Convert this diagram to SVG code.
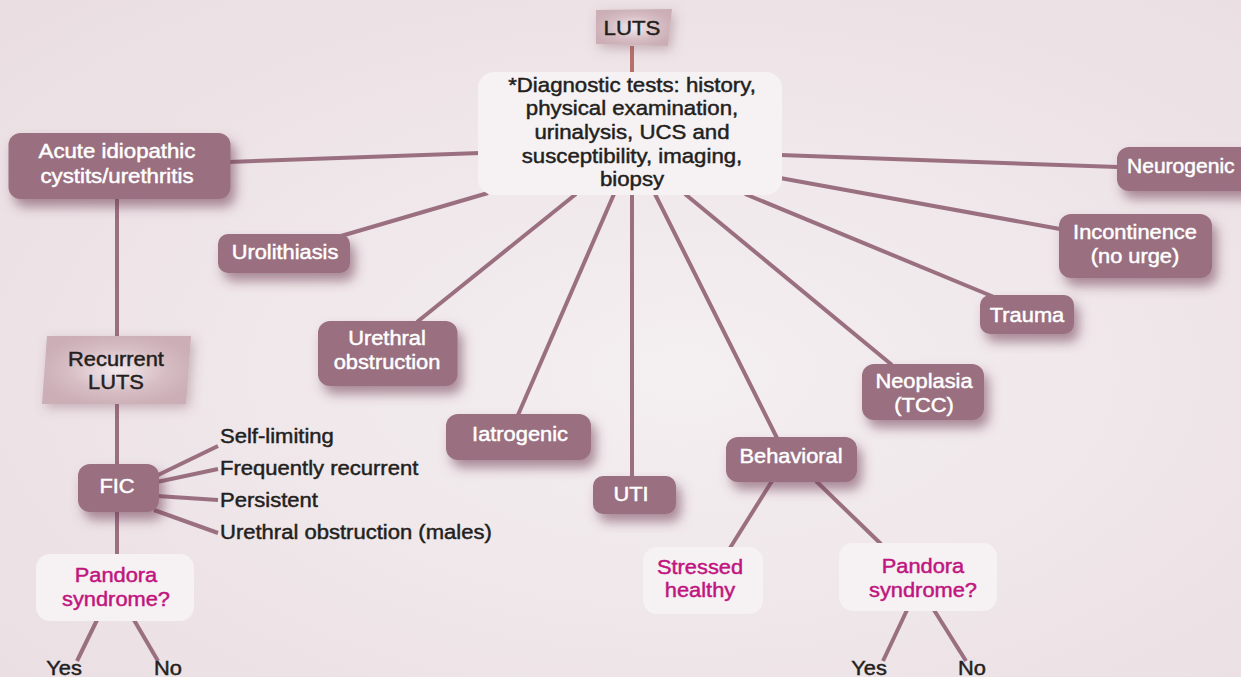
<svg xmlns="http://www.w3.org/2000/svg" width="1241" height="677" viewBox="0 0 1241 677">
<defs>
<radialGradient id="bg" cx="55%" cy="55%" r="75%">
<stop offset="0" stop-color="#f4eff1"/>
<stop offset="1" stop-color="#eadee2"/>
</radialGradient>
<radialGradient id="glow" cx="50%" cy="50%" r="55%">
<stop offset="0" stop-color="#f3eaed"/>
<stop offset="0.6" stop-color="#d6bcc3"/>
<stop offset="1" stop-color="#cbaeb6"/>
</radialGradient>
<filter id="sh" x="-20%" y="-30%" width="150%" height="180%">
<feGaussianBlur in="SourceAlpha" stdDeviation="6"/>
<feOffset dx="5" dy="8" result="b"/>
<feFlood flood-color="#6e3a50" flood-opacity="0.55"/>
<feComposite in2="b" operator="in"/>
<feMerge><feMergeNode/><feMergeNode in="SourceGraphic"/></feMerge>
</filter>
<filter id="sh2" x="-20%" y="-30%" width="150%" height="180%">
<feGaussianBlur in="SourceAlpha" stdDeviation="6"/>
<feOffset dx="3" dy="4" result="b"/>
<feFlood flood-color="#7a4a5c" flood-opacity="0.35"/>
<feComposite in2="b" operator="in"/>
<feMerge><feMergeNode/><feMergeNode in="SourceGraphic"/></feMerge>
</filter>
</defs>
<style>
text{font-family:"Liberation Sans",Arial,Helvetica,sans-serif;font-size:19.5px;stroke-width:0.45px}
.m{fill:#9a6f80}
.w{fill:#f6f1f3}
.tw{fill:#ffffff;stroke:#ffffff;text-anchor:middle}
.td{fill:#231f20;stroke:#231f20;text-anchor:middle}
.tl{fill:#231f20;stroke:#231f20;text-anchor:start}
.tp{fill:#c0157e;stroke:#c0157e;text-anchor:middle}
.c{stroke:#9a7080;stroke-width:4;fill:none}
.lb{fill:url(#glow)}
</style>
<rect x="0" y="0" width="1241" height="677" fill="url(#bg)"/>

<g id="connectors">
<line class="c" x1="632" y1="46" x2="632" y2="74" style="stroke:#b8716a"/>
<line class="c" x1="480" y1="153" x2="228" y2="162"/>
<line class="c" x1="488" y1="193" x2="341" y2="236"/>
<line class="c" x1="576" y1="194" x2="417" y2="322"/>
<line class="c" x1="614" y1="194" x2="518" y2="415"/>
<line class="c" x1="632" y1="194" x2="632" y2="477"/>
<line class="c" x1="655" y1="194" x2="777" y2="438"/>
<line class="c" x1="685" y1="194" x2="892" y2="365"/>
<line class="c" x1="745" y1="194" x2="994" y2="297"/>
<line class="c" x1="780" y1="178" x2="1060" y2="229"/>
<line class="c" x1="780" y1="155" x2="1118" y2="167"/>
<line class="c" x1="117" y1="198" x2="117" y2="337"/>
<line class="c" x1="117" y1="403" x2="117" y2="465"/>
<line class="c" x1="117" y1="511" x2="117" y2="555"/>
<line class="c" x1="156" y1="476" x2="218" y2="446"/>
<line class="c" x1="157" y1="482" x2="218" y2="469"/>
<line class="c" x1="157" y1="496" x2="218" y2="500"/>
<line class="c" x1="154" y1="510" x2="218" y2="533"/>
<line class="c" x1="97" y1="620" x2="77" y2="661"/>
<line class="c" x1="134" y1="620" x2="158" y2="661"/>
<line class="c" x1="772" y1="481" x2="730" y2="548"/>
<line class="c" x1="816" y1="481" x2="881" y2="544"/>
<line class="c" x1="907" y1="610" x2="883" y2="661"/>
<line class="c" x1="934" y1="610" x2="966" y2="661"/>
</g>

<g id="luts">
<polygon class="lb" points="596,10 672,9 668,46 596,44" filter="url(#sh2)"/>
<text class="td" transform="translate(632,35) scale(1.14,1)">LUTS</text>
</g>

<g id="diagnostic">
<rect class="w" x="478" y="72" width="304" height="123" rx="16"/>
<text class="td" transform="translate(632,92) scale(1.14,1)"><tspan x="0" y="0">*Diagnostic tests: history,</tspan><tspan x="0" y="23.5">physical examination,</tspan><tspan x="0" y="47">urinalysis, UCS and</tspan><tspan x="0" y="71">susceptibility, imaging,</tspan><tspan x="0" y="94.5">biopsy</tspan></text>
</g>

<g id="acute">
<rect class="m" x="8.5" y="133" width="222" height="66" rx="12" filter="url(#sh)"/>
<text class="tw" transform="translate(117,158) scale(1.14,1)"><tspan x="0" y="0">Acute idiopathic</tspan><tspan x="0" y="25">cystits/urethritis</tspan></text>
</g>

<g id="urolithiasis">
<rect class="m" x="218" y="234" width="132" height="39" rx="10" filter="url(#sh)"/>
<text class="tw" transform="translate(285,259) scale(1.12,1)">Urolithiasis</text>
</g>

<g id="urethral">
<rect class="m" x="318" y="321" width="139.5" height="65" rx="12" filter="url(#sh)"/>
<text class="tw" transform="translate(387,345) scale(1.12,1)"><tspan x="0" y="0">Urethral</tspan><tspan x="0" y="24">obstruction</tspan></text>
</g>

<g id="iatrogenic">
<rect class="m" x="446" y="414" width="145" height="46" rx="12" filter="url(#sh)"/>
<text class="tw" transform="translate(520,441) scale(1.12,1)">Iatrogenic</text>
</g>

<g id="uti">
<rect class="m" x="593" y="476" width="83" height="38" rx="10" filter="url(#sh)"/>
<text class="tw" transform="translate(631,501) scale(1.12,1)">UTI</text>
</g>

<g id="behavioral">
<rect class="m" x="726" y="437" width="131" height="45" rx="12" filter="url(#sh)"/>
<text class="tw" transform="translate(791,463) scale(1.12,1)">Behavioral</text>
</g>

<g id="neoplasia">
<rect class="m" x="862" y="364" width="122" height="56" rx="12" filter="url(#sh)"/>
<text class="tw" transform="translate(924,388) scale(1.12,1)"><tspan x="0" y="0">Neoplasia</tspan><tspan x="0" y="24">(TCC)</tspan></text>
</g>

<g id="trauma">
<rect class="m" x="980" y="295" width="94" height="39" rx="10" filter="url(#sh)"/>
<text class="tw" transform="translate(1027,322) scale(1.12,1)">Trauma</text>
</g>

<g id="incontinence">
<rect class="m" x="1059" y="214" width="153" height="64" rx="12" filter="url(#sh)"/>
<text class="tw" transform="translate(1135,239) scale(1.12,1)"><tspan x="0" y="0">Incontinence</tspan><tspan x="0" y="24">(no urge)</tspan></text>
</g>

<g id="neurogenic">
<rect class="m" x="1117" y="147" width="140" height="44" rx="12" filter="url(#sh)"/>
<text class="tw" style="text-anchor:start" transform="translate(1127,173) scale(1.08,1)">Neurogenic</text>
</g>

<g id="recurrent">
<polygon class="lb" points="47,336 191,336 186,404 42,404" filter="url(#sh2)"/>
<text class="td" transform="translate(116,365.5) scale(1.12,1)"><tspan x="0" y="0">Recurrent</tspan><tspan x="0" y="24">LUTS</tspan></text>
</g>

<g id="fic">
<rect class="m" x="78" y="464" width="81" height="48" rx="12" filter="url(#sh)"/>
<text class="tw" transform="translate(117,493) scale(1.12,1)">FIC</text>
</g>

<g id="fic-outcomes">
<text class="tl" transform="translate(220,443) scale(1.13,1)">Self-limiting</text>
<text class="tl" transform="translate(220,475) scale(1.13,1)">Frequently recurrent</text>
<text class="tl" transform="translate(220,507) scale(1.13,1)">Persistent</text>
<text class="tl" transform="translate(220,539) scale(1.13,1)">Urethral obstruction (males)</text>
</g>

<g id="pandora1">
<rect class="w" x="36" y="554" width="158" height="67" rx="14"/>
<text class="tp" transform="translate(116,582) scale(1.12,1)"><tspan x="0" y="0">Pandora</tspan><tspan x="0" y="24">syndrome?</tspan></text>
</g>

<g id="yesno1">
<text class="td" transform="translate(64,675) scale(1.12,1)">Yes</text>
<text class="td" transform="translate(168,675) scale(1.12,1)">No</text>
</g>

<g id="stressed">
<rect class="w" x="643" y="547" width="120" height="67" rx="14"/>
<text class="tp" transform="translate(700,574) scale(1.12,1)"><tspan x="0" y="0">Stressed</tspan><tspan x="0" y="23.5">healthy</tspan></text>
</g>

<g id="pandora2">
<rect class="w" x="839" y="543" width="158" height="68" rx="14"/>
<text class="tp" transform="translate(923,573) scale(1.12,1)"><tspan x="0" y="0">Pandora</tspan><tspan x="0" y="24">syndrome?</tspan></text>
</g>

<g id="yesno2">
<text class="td" transform="translate(869,675) scale(1.12,1)">Yes</text>
<text class="td" transform="translate(972,675) scale(1.12,1)">No</text>
</g>
</svg>
